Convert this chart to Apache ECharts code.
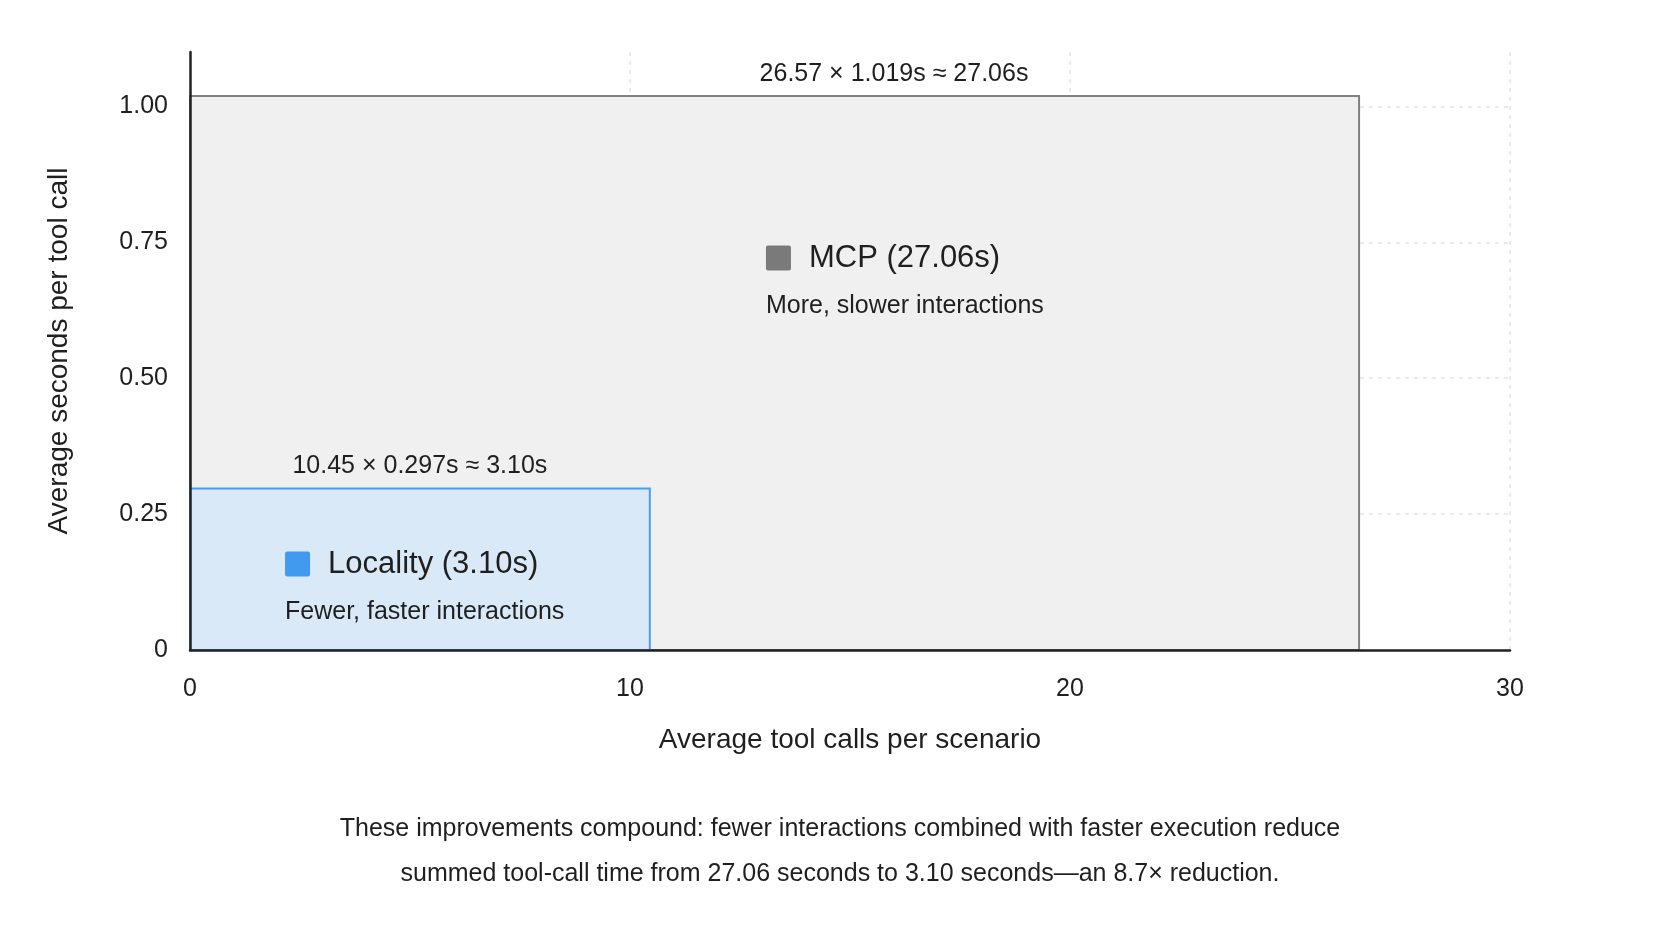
<!DOCTYPE html>
<html>
<head>
<meta charset="utf-8">
<script src="https://cdn.jsdelivr.net/npm/echarts@6/dist/echarts.min.js"></script>
<style>
  html, body { margin: 0; padding: 0; background: #fff; }
  #main { width: 1680px; height: 937px; }
</style>
</head>
<body>
<div id="main"></div>
<script>
// data
var schemes = ['Locality', 'MCP'];
var callsPerScenario = [10.45, 26.57];
var secondsPerCall = [0.297, 1.019];
var totalSeconds = [3.10, 27.06];
var subtitles = ['Fewer, faster interactions', 'More, slower interactions'];
var xTicks = [0, 10, 20, 30];
var yTicks = [0, 0.25, 0.5, 0.75, 1.0];
var caption = [
    'These improvements compound: fewer interactions combined with faster execution reduce',
    'summed tool-call time from 27.06 seconds to 3.10 seconds\u2014an 8.7\u00d7 reduction.'
];

// look of each block (where its text sits, in axis units)
var looks = {
    Locality: { fill: '#d9e9f7', stroke: '#4a9eeb', swatch: '#4299f0', noteX: 5.225, legend: [2.16, 0.158] },
    MCP: { fill: '#f0f0f0', stroke: '#808080', swatch: '#7a7a7a', noteX: 16.0, legend: [13.09, 0.721] }
};
var FONT = '"Liberation Sans", Arial, Helvetica, sans-serif';
var INK = '#1f1f1f';

var rows = schemes.map(function (name, i) {
    return [callsPerScenario[i], secondsPerCall[i], totalSeconds[i], i];
});
// big block first so the small one sits on top
rows.sort(function (a, b) { return b[0] * b[1] - a[0] * a[1]; });

function renderBlock(params, api) {
    var i = api.value(3);
    var name = schemes[i];
    var look = looks[name];
    var x1 = api.value(0), y1 = api.value(1);
    var tl = api.coord([0, y1]);
    var br = api.coord([x1, 0]);
    var note = callsPerScenario[i] + ' \u00d7 ' + secondsPerCall[i] + 's \u2248 ' + totalSeconds[i].toFixed(2) + 's';
    var noteX = api.coord([look.noteX, y1])[0];
    var lg = api.coord(look.legend);
    return {
        type: 'group',
        children: [
            { type: 'rect', shape: { x: tl[0], y: tl[1], width: br[0] - tl[0], height: br[1] - tl[1] },
              style: { fill: look.fill, stroke: look.stroke, lineWidth: 2 } },
            { type: 'text', style: { text: note, x: noteX, y: tl[1] - 22, align: 'center', verticalAlign: 'middle',
              font: '25px ' + FONT, fill: INK } },
            { type: 'rect', shape: { x: lg[0], y: lg[1] - 12.5, width: 25, height: 25, r: 2 },
              style: { fill: look.swatch } },
            { type: 'text', style: { text: name + ' (' + totalSeconds[i].toFixed(2) + 's)', x: lg[0] + 43, y: lg[1],
              align: 'left', verticalAlign: 'middle', font: '31px ' + FONT, fill: INK } },
            { type: 'text', style: { text: subtitles[i], x: lg[0], y: lg[1] + 48,
              align: 'left', verticalAlign: 'middle', font: '25px ' + FONT, fill: INK } }
        ]
    };
}

var gridLine = { show: true, showMinLine: false, lineStyle: { color: '#e4e4e4', width: 1.5, type: [4, 5] } };
var darkLine = { show: true, onZero: false, lineStyle: { color: '#222', width: 2.5 } };

var option = {
    animation: false,
    backgroundColor: '#fff',
    textStyle: { fontFamily: FONT },
    grid: { left: 190, right: 170, top: 52, bottom: 287 },
    xAxis: [{
        type: 'value', min: xTicks[0], max: xTicks[xTicks.length - 1], interval: xTicks[1] - xTicks[0],
        name: 'Average tool calls per scenario', nameLocation: 'middle', nameGap: 76,
        nameTextStyle: { fontSize: 28, color: INK, fontFamily: FONT },
        axisLine: { show: false }, axisTick: { show: false },
        axisLabel: { fontSize: 25, color: INK, margin: 27, fontFamily: FONT },
        splitLine: gridLine
    }, {
        type: 'value', min: xTicks[0], max: xTicks[xTicks.length - 1], position: 'bottom', z: 10,
        axisLine: darkLine, axisTick: { show: false }, axisLabel: { show: false }, splitLine: { show: false }
    }],
    yAxis: [{
        type: 'value', min: 0, max: 1.1, interval: yTicks[1] - yTicks[0],
        name: 'Average seconds per tool call', nameLocation: 'middle', nameGap: 117,
        nameTextStyle: { fontSize: 28, color: INK, fontFamily: FONT },
        axisLine: { show: false }, axisTick: { show: false },
        axisLabel: { fontSize: 25, color: INK, margin: 22, fontFamily: FONT,
            formatter: function (v) {
                if (yTicks.indexOf(v) < 0) return '';
                return v === 0 ? '0' : v.toFixed(2);
            } },
        splitLine: Object.assign({}, gridLine, { showMaxLine: false })
    }, {
        type: 'value', min: 0, max: 1.1, position: 'left', z: 10,
        axisLine: darkLine, axisTick: { show: false }, axisLabel: { show: false }, splitLine: { show: false }
    }],
    series: [{
        type: 'custom',
        xAxisIndex: 0, yAxisIndex: 0,
        renderItem: renderBlock,
        data: rows,
        silent: true
    }],
    graphic: caption.map(function (line, k) {
        return {
            type: 'text', x: 840, y: 829 + k * 45,
            style: { text: line, align: 'center', verticalAlign: 'middle', font: '25px ' + FONT, fill: INK }
        };
    })
};

var myChart = echarts.init(document.getElementById('main'));
myChart.setOption(option);
</script>
</body>
</html>
